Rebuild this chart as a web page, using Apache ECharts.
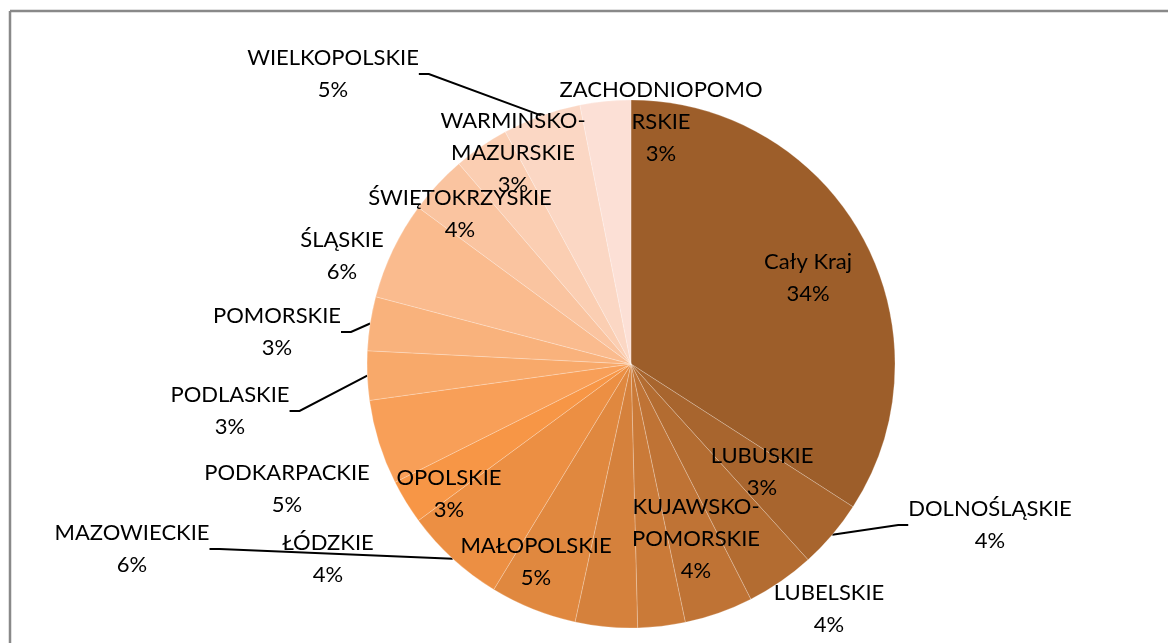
<!DOCTYPE html>
<html>
<head>
<meta charset="utf-8">
<script src="https://cdn.jsdelivr.net/npm/echarts@6/dist/echarts.min.js"></script>
<style>
  html, body { margin: 0; padding: 0; background: #fff; }
  #pie_1 { width: 1168px; height: 643px; }
</style>
</head>
<body>
<div id="pie_1"></div>
<script>
// udział województw (%)
var regions = ['Cały Kraj', 'DOLNOŚLĄSKIE', 'KUJAWSKO-POMORSKIE', 'LUBELSKIE', 'LUBUSKIE',
  'ŁÓDZKIE', 'MAŁOPOLSKIE', 'MAZOWIECKIE', 'OPOLSKIE', 'PODKARPACKIE', 'PODLASKIE',
  'POMORSKIE', 'ŚLĄSKIE', 'ŚWIĘTOKRZYSKIE', 'WARMINSKO-MAZURSKIE', 'WIELKOPOLSKIE',
  'ZACHODNIOPOMORSKIE'];
var shares = [34.1, 4.2, 4.2, 4.2, 2.9, 3.8, 5.3, 6.2, 2.7, 5.2, 3.0, 3.3, 6.0, 3.6, 3.4, 4.8, 3.1];
// tekst etykiet (Excel łamie nazwy po swojemu)
var labelNames = ['Cały Kraj', 'DOLNOŚLĄSKIE', 'KUJAWSKO-\nPOMORSKIE', 'LUBELSKIE', 'LUBUSKIE',
  'ŁÓDZKIE', 'MAŁOPOLSKIE', 'MAZOWIECKIE', 'OPOLSKIE', 'PODKARPACKIE', 'PODLASKIE',
  'POMORSKIE', 'ŚLĄSKIE', 'ŚWIĘTOKRZYSKIE', 'WARMINSKO-\nMAZURSKIE', 'WIELKOPOLSKIE',
  'ZACHODNIOPOMO\nRSKIE'];

var colors = ['#9D5E2A', '#A8652E', '#B36C31', '#BF7335', '#CA7A38', '#D5813C', '#E0883F',
  '#EC8F43', '#F79646', '#F89F58', '#F8A96A', '#F9B27C', '#FABB8E', '#FAC4A0', '#FBCEB2',
  '#FBD7C4', '#FCE0D6'];
// pozycje etykiet (środek bloku tekstu)
var labelPos = [[808, 278], [990, 525], [696, 539], [829, 609], [762, 472], [328, 559],
  [536, 562], [132, 549], [449, 494], [287, 489], [230, 411], [277, 332], [342, 256],
  [460, 214], [513, 153], [333, 74], [661, 122]];
var withLine = [1, 7, 10, 11, 15];

var myChart = echarts.init(document.getElementById('pie_1'));

var data = [];
for (var i = 0; i < regions.length; i++) {
  data.push({
    name: regions[i],
    value: shares[i],
    itemStyle: { color: colors[i] },
    labelLine: { show: withLine.indexOf(i) >= 0 }
  });
}

var option = {
  animation: false,
  backgroundColor: '#fff',
  graphic: [
    { type: 'line', shape: { x1: 10, y1: 11, x2: 1168, y2: 11 }, style: { stroke: '#898989', lineWidth: 2.5 } },
    { type: 'line', shape: { x1: 10, y1: 11, x2: 10, y2: 643 }, style: { stroke: '#898989', lineWidth: 2.5 } }
  ],
  series: [
    {
      type: 'pie',
      center: [631, 364],
      radius: 264,
      startAngle: 90,
      clockwise: true,
      data: data,
      itemStyle: { borderColor: 'rgba(255,255,255,0.45)', borderWidth: 0.5 },
      label: {
        show: true,
        position: 'outside',
        color: '#000',
        fontFamily: 'Lato',
        fontSize: 22,
        lineHeight: 32,
        align: 'center',
        formatter: function (p) {
          return labelNames[p.dataIndex] + '\n' + Math.round(p.percent) + '%';
        }
      },
      labelLine: {
        show: true,
        length: 10,
        length2: 10,
        lineStyle: { color: '#000', width: 2 }
      },
      labelLayout: function (p) {
        var pos = labelPos[p.dataIndex];
        return { x: pos[0], y: pos[1], align: 'center', verticalAlign: 'middle' };
      }
    }
  ]
};

myChart.setOption(option);
window.addEventListener("resize", function () {
  myChart.resize();
});
</script>
</body>
</html>
